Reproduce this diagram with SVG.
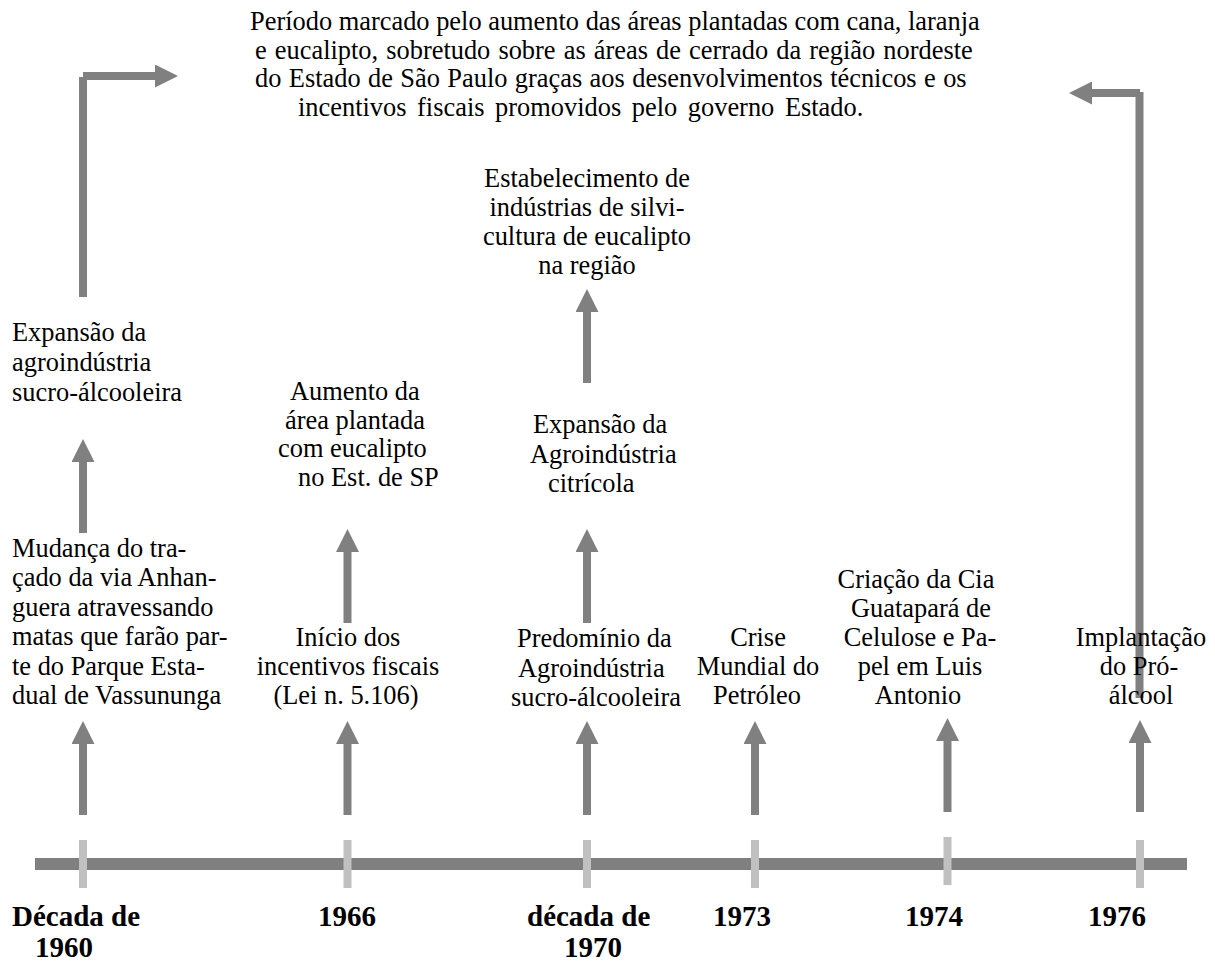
<svg xmlns="http://www.w3.org/2000/svg" width="1215" height="962" viewBox="0 0 1215 962">
  <defs>
    <marker id="head" markerUnits="userSpaceOnUse" markerWidth="23" markerHeight="23" refX="0" refY="11.5" orient="auto">
      <path d="M0,0 L23,11.5 L0,23 Z" fill="#808080"/>
    </marker>
    <style>
      text { font-family: "Liberation Serif", "Times New Roman", serif; font-size: 26.4px; fill: #000; }
      .mid { text-anchor: middle; }
      .year { font-weight: bold; font-size: 29px; }
      .arrow { stroke: #808080; stroke-width: 8; fill: none; stroke-linecap: butt; }
      .bar { fill: #808080; }
      .tick { fill: #c0c0c0; }
    </style>
  </defs>
  <rect width="1215" height="962" fill="#fff"/>

  <!-- time axis -->
  <g id="axis">
    <rect class="bar" x="35" y="858" width="1152" height="12"/>
    <rect class="tick" x="79" y="840" width="8" height="48"/>
    <rect class="tick" x="343.5" y="840" width="8" height="48"/>
    <rect class="tick" x="583" y="840" width="8" height="48"/>
    <rect class="tick" x="751" y="840" width="8" height="48"/>
    <rect class="tick" x="943.5" y="837" width="8" height="48"/>
    <rect class="tick" x="1136" y="840" width="8" height="48"/>
  </g>

  <!-- connectors -->
  <g id="connectors">
    <line class="arrow" x1="83" y1="815" x2="83" y2="744" marker-end="url(#head)"/>
    <line class="arrow" x1="347.5" y1="815" x2="347.5" y2="744" marker-end="url(#head)"/>
    <line class="arrow" x1="587" y1="815" x2="587" y2="744" marker-end="url(#head)"/>
    <line class="arrow" x1="755" y1="815" x2="755" y2="744" marker-end="url(#head)"/>
    <line class="arrow" x1="947.5" y1="812" x2="947.5" y2="741" marker-end="url(#head)"/>
    <line class="arrow" x1="1140" y1="812" x2="1140" y2="743" marker-end="url(#head)"/>

    <line class="arrow" x1="83" y1="533" x2="83" y2="462" marker-end="url(#head)"/>
    <line class="arrow" x1="347.5" y1="623" x2="347.5" y2="552" marker-end="url(#head)"/>
    <line class="arrow" x1="587" y1="623" x2="587" y2="552" marker-end="url(#head)"/>
    <line class="arrow" x1="587" y1="383" x2="587" y2="312" marker-end="url(#head)"/>

    <!-- bent arrows into the summary paragraph -->
    <line class="arrow" x1="83" y1="297" x2="83" y2="77"/>
    <line class="arrow" x1="83" y1="76" x2="155" y2="76" marker-end="url(#head)"/>
    <line class="arrow" x1="1139.5" y1="698" x2="1139.5" y2="92"/>
    <line class="arrow" x1="1140" y1="93" x2="1092" y2="93" marker-end="url(#head)"/>
  </g>

  <!-- summary paragraph -->
  <g id="summary">
    <text x="250" y="30">Período marcado pelo aumento das áreas plantadas com cana, laranja</text>
    <text x="255" y="58.6" word-spacing="1.5">e eucalipto, sobretudo sobre as áreas de cerrado da região nordeste</text>
    <text x="255" y="87.2" word-spacing="0.8">do Estado de São Paulo graças aos desenvolvimentos técnicos e os</text>
    <text x="298" y="115.8" word-spacing="4">incentivos fiscais promovidos pelo governo Estado.</text>
  </g>

  <!-- 1960s column -->
  <g id="expansao-sucro">
    <text x="12" y="340.5">Expansão da</text>
    <text x="12" y="370.5">agroindústria</text>
    <text x="12" y="400.5">sucro-álcooleira</text>
  </g>
  <g id="anhanguera">
    <text x="12" y="556.5">Mudança do tra-</text>
    <text x="12" y="586">çado da via Anhan-</text>
    <text x="12" y="615.5">guera atravessando</text>
    <text x="12" y="645">matas que farão par-</text>
    <text x="12" y="674.5">te do Parque Esta-</text>
    <text x="12" y="704">dual de Vassununga</text>
  </g>

  <!-- 1966 column -->
  <g id="aumento-eucalipto">
    <text x="290" y="400">Aumento da</text>
    <text x="285" y="428.5">área plantada</text>
    <text x="278" y="457">com eucalipto</text>
    <text x="298" y="485.5">no Est. de SP</text>
  </g>
  <g id="incentivos">
    <text class="mid" x="348" y="646">Início dos</text>
    <text class="mid" x="348" y="675">incentivos fiscais</text>
    <text class="mid" x="346" y="704">(Lei n. 5.106)</text>
  </g>

  <!-- 1970s column -->
  <g id="silvicultura">
    <text class="mid" x="587" y="187">Estabelecimento de</text>
    <text class="mid" x="587" y="216">indústrias de silvi-</text>
    <text class="mid" x="587" y="245">cultura de eucalipto</text>
    <text class="mid" x="587" y="274">na região</text>
  </g>
  <g id="citricola">
    <text x="533" y="433">Expansão da</text>
    <text x="530" y="463">Agroindústria</text>
    <text x="548" y="492">citrícola</text>
  </g>
  <g id="predominio">
    <text x="517" y="647">Predomínio da</text>
    <text x="518" y="676.5">Agroindústria</text>
    <text x="511" y="706">sucro-álcooleira</text>
  </g>

  <!-- 1973 -->
  <g id="crise">
    <text class="mid" x="758" y="646">Crise</text>
    <text class="mid" x="758" y="675">Mundial do</text>
    <text class="mid" x="757" y="704">Petróleo</text>
  </g>

  <!-- 1974 -->
  <g id="guatapara">
    <text class="mid" x="916" y="588">Criação da Cia</text>
    <text class="mid" x="921" y="617">Guatapará de</text>
    <text class="mid" x="920" y="646">Celulose e Pa-</text>
    <text class="mid" x="920" y="675">pel em Luis</text>
    <text class="mid" x="918" y="704">Antonio</text>
  </g>

  <!-- 1976 -->
  <g id="proalcool">
    <text class="mid" x="1141" y="646">Implantação</text>
    <text class="mid" x="1139" y="675">do Pró-</text>
    <text class="mid" x="1141" y="704">álcool</text>
  </g>

  <!-- axis labels -->
  <g id="labels">
    <text class="year" x="12" y="926">Década de</text>
    <text class="year" x="35" y="957">1960</text>
    <text class="year" x="318" y="926">1966</text>
    <text class="year" x="527" y="926">década de</text>
    <text class="year" x="564" y="957">1970</text>
    <text class="year" x="713" y="926">1973</text>
    <text class="year" x="905" y="926">1974</text>
    <text class="year" x="1088" y="926">1976</text>
  </g>
</svg>
